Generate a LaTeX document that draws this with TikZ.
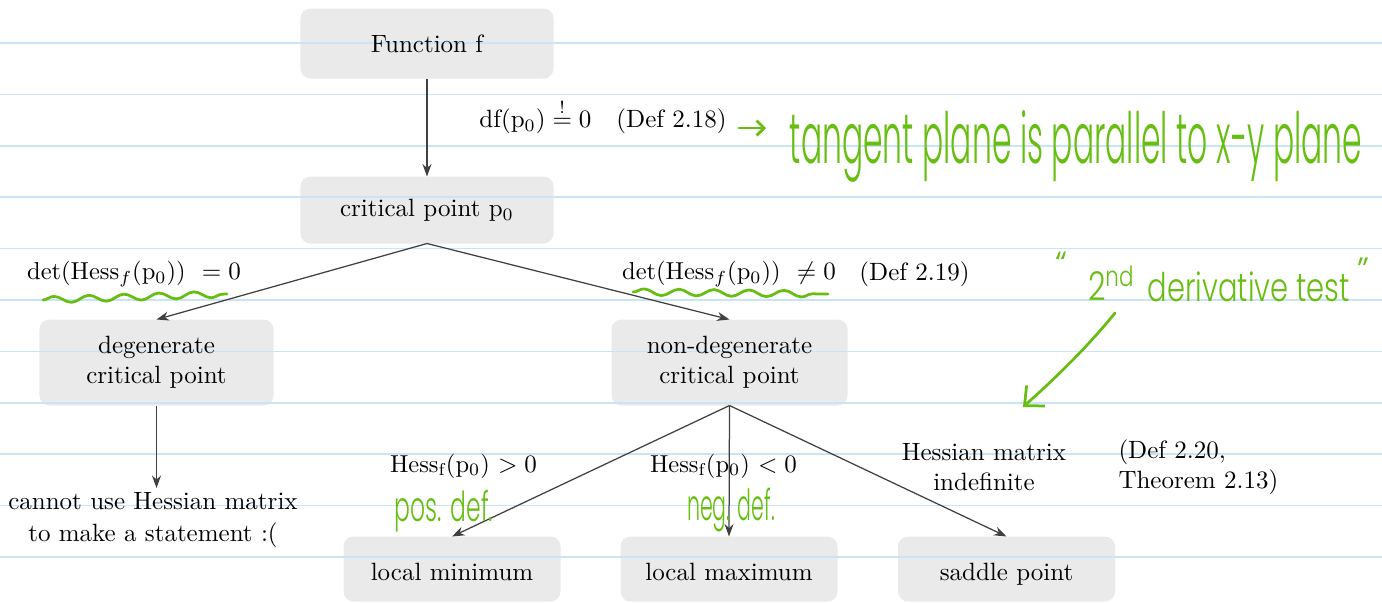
\documentclass[tikz,border=0pt]{standalone}
\usepackage{fontspec}
\usepackage{amsmath}
\usepackage{graphicx}
\usetikzlibrary{arrows.meta,decorations.pathmorphing}

\newfontfamily\handfont{Poppins Light}

\definecolor{rulecol}{RGB}{200,228,246}
\definecolor{ink}{RGB}{64,64,64}
\definecolor{marker}{RGB}{102,190,16}
\definecolor{boxgray}{RGB}{234,234,234}

\pgfdeclarelayer{boxes}
\pgfdeclarelayer{rules}
\pgfsetlayers{boxes,rules,main}

\tikzset{
  box/.style={inner sep=0pt, align=center},
  lowbox/.style={box, minimum width=86.4pt, text height=17.4pt, text depth=8.2pt},
  lbl/.style={inner sep=0pt, align=center},
  mathlbl/.style={lbl, font=\fontsize{9.8}{12}\selectfont},
  conn/.style={draw=ink, line width=0.5pt, -{Stealth[length=5pt,width=3.6pt]}},
  hand/.style={inner sep=0pt, text=marker, font=\handfont},
  penline/.style={draw=marker, line width=1.1pt, line cap=round, line join=round},
  wavy/.style={penline, decorate, decoration={snake, amplitude=1.3pt, segment length=14pt}},
  ruleline/.style={draw=rulecol, line width=0.6pt},
  boxfill/.style={fill=boxgray, rounded corners=4pt}
}

\begin{document}
\begin{tikzpicture}[x=0.4pt,y=-0.4pt]
\useasboundingbox (0,0) rectangle (1382,602);

% ruled paper
\begin{pgfonlayer}{rules}
  \foreach \k in {0,...,10}
    \draw[ruleline] (0,{43+51.4*\k}) -- (1382,{43+51.4*\k});
\end{pgfonlayer}

% boxes
\node[box, minimum width=100.8pt, minimum height=27.6pt] (f) at (427,43.5) {Function f};
\node[box, minimum width=100.8pt, minimum height=26.4pt] (cp) at (427,210) {critical point p$_0$};
\node[box, minimum width=93.2pt, minimum height=34pt] (deg) at (156.5,362.5) {degenerate\\critical point};
\node[box, minimum width=94pt, minimum height=34pt] (ndeg) at (729.5,362.5) {non-degenerate\\critical point};
\node[lowbox, anchor=base] (lmin) at (452,580.5) {local minimum};
\node[lowbox, anchor=base] (lmax) at (729,580.5) {local maximum};
\node[lowbox, anchor=base] (sadl) at (1006.5,580.5) {saddle point};

\begin{pgfonlayer}{boxes}
  \foreach \n in {f,cp,deg,ndeg,lmin,lmax,sadl}
    \fill[boxfill] (\n.south west) rectangle (\n.north east);
\end{pgfonlayer}

% condition labels
\node[lbl] (dfz) at (603,116) {$\mathrm{df}(\mathrm{p}_0) \stackrel{!}{=} 0$\quad (Def 2.18)};
\node[mathlbl] (detz) at (134,274) {det(Hess$_f$(p$_0$))\ \ $= 0$};
\node[mathlbl] (detnz) at (729,274) {det(Hess$_f$(p$_0$))\ \ $\neq 0$};
\node[lbl] (def219) at (914.5,274) {(Def 2.19)};
\node[mathlbl] (pos) at (463.5,466) {Hess$_\mathrm{f}$(p$_0$) $> 0$};
\node[mathlbl] (neg) at (723.5,466) {Hess$_\mathrm{f}$(p$_0$) $< 0$};
\node[lbl] (indef) at (984,467.5) {Hessian matrix\\indefinite};
\node[lbl, align=left, anchor=west] (def220) at (1118,467.5) {(Def 2.20,\\Theorem 2.13)};
\node[lbl, anchor=north, inner sep=1.5pt] (cannot) at (153,488) {cannot use Hessian matrix\\[1pt]to make a statement :(};

% connectors
\draw[conn] (f) -- (cp);
\draw[conn] (cp.south) -- (deg.north);
\draw[conn] (cp.south) -- (ndeg.north);
\draw[conn] (deg.south) -- (deg.south |- cannot.north);
\draw[conn] (ndeg.south) -- (lmin.north);
\draw[conn] (ndeg.south) -- (lmax.north);
\draw[conn] (ndeg.south) -- (sadl.north);

% handwritten notes
\node[hand] (tan) at (1076,146) {\resizebox*{228.8pt}{28.8pt}{tangent plane is parallel to x-y plane}};
\coordinate (tgA) at (739,128);
\coordinate (tgB) at (766,128);
\draw[penline, -{Straight Barb[length=3pt,width=6pt]}] (tgA) -- (tgB);

\node[hand] (posdef) at (444,511) {\resizebox*{39.2pt}{16.8pt}{pos. def.}};
\node[hand] (negdef) at (731,510) {\resizebox*{35.2pt}{17.6pt}{neg. def.}};

\node[hand, anchor=north] (qL) at (1061,252) {\fontsize{14}{14}\selectfont “};
\node[hand] (second) at (1111.5,283) {\resizebox*{18.8pt}{14pt}{2\textsuperscript{nd}}};
\node[hand] (dtest) at (1249,287) {\resizebox*{80.8pt}{12pt}{derivative test}};
\node[hand, anchor=north] (qR) at (1363,258) {\fontsize{14}{14}\selectfont ”};

\coordinate (dtA) at (1115,313);
\coordinate (dtB) at (1023,407);
\draw[penline, -{Straight Barb[length=6pt,width=11pt]}] (dtA) .. controls (1085,350) and (1050,383) .. (dtB);

% wavy underlines
\coordinate (w1a) at (43,300);
\coordinate (w1b) at (227,294);
\draw[wavy] (w1a) -- (w1b);
\coordinate (w2a) at (633,292);
\coordinate (w2b) at (828,294);
\draw[wavy] (w2a) -- (w2b);
\end{tikzpicture}
\end{document}
